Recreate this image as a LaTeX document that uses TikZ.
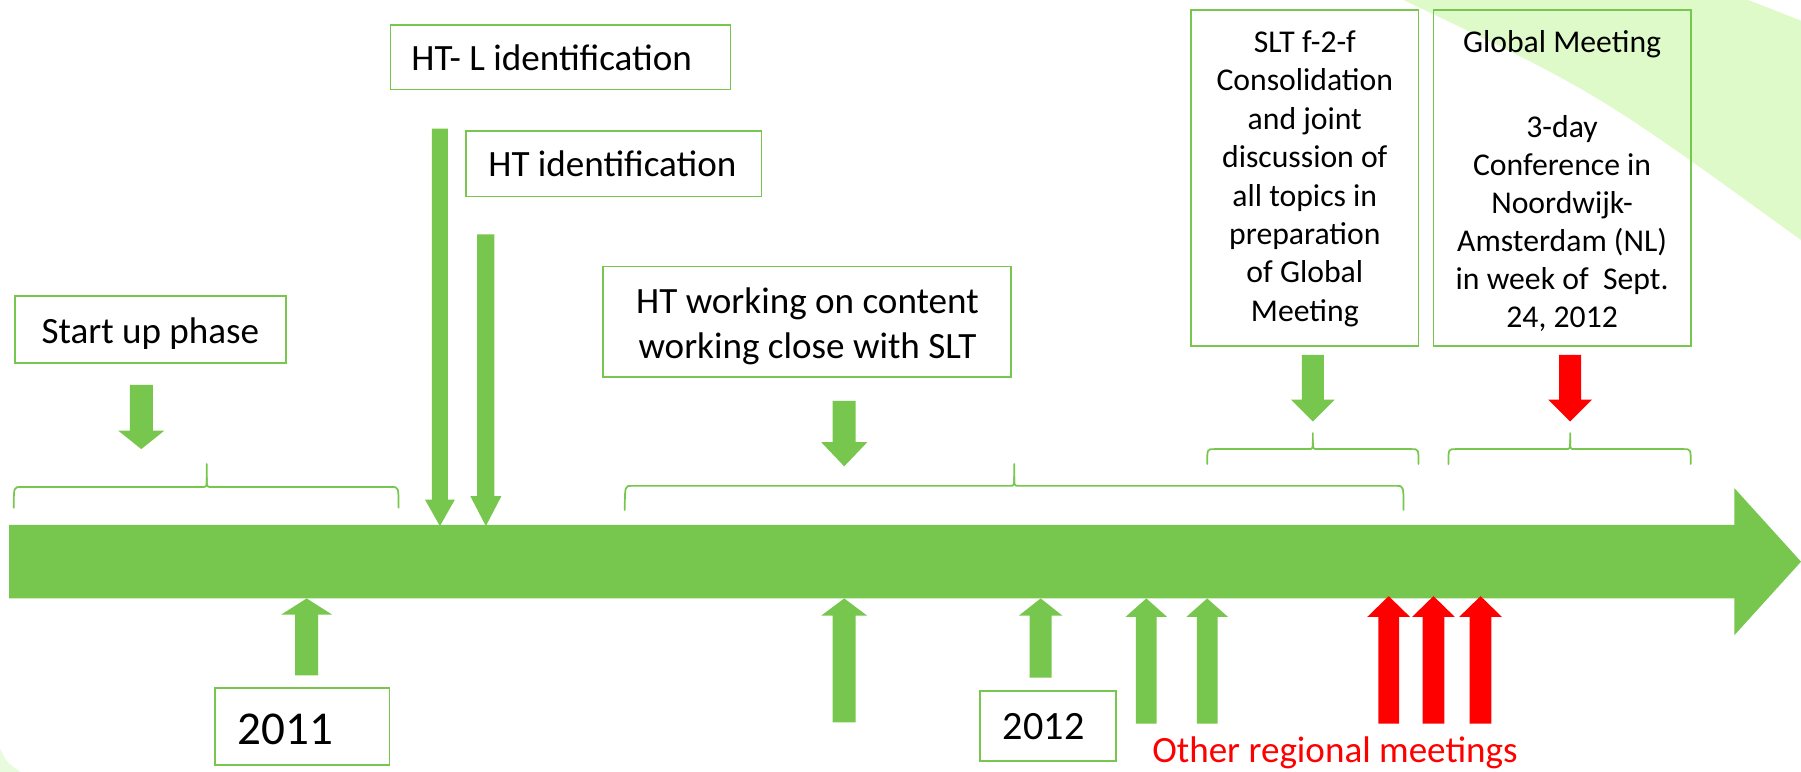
\documentclass[tikz,border=0pt]{standalone}
\usepackage{fontspec}
\setmainfont{Carlito}
\definecolor{tlgreen}{RGB}{119,199,78}
\definecolor{tlred}{RGB}{255,0,0}
\definecolor{bandgreen}{RGB}{222,250,200}
\definecolor{fadegreen}{RGB}{232,251,220}
\newcommand\blkarrow[7]{% color, x, y tail, y head base, y tip, shaft half width, head half width
  \fill[#1] (#2-#6,#3) -- (#2+#6,#3) -- (#2+#6,#4) -- (#2+#7,#4) -- (#2,#5) -- (#2-#7,#4) -- (#2-#6,#4) -- cycle;}
\newcommand\brc[6]{% x1, xm, x2, y tip, y horizontal, y ends
  \draw[bracestyle] (#1,#6) .. controls (#1,#5) .. (#1+6,#5) -- (#2-4,#5) .. controls (#2,#5) .. (#2,#5-8) -- (#2,#4);
  \draw[bracestyle] (#2,#5-8) .. controls (#2,#5) .. (#2+4,#5) -- (#3-6,#5) .. controls (#3,#5) .. (#3,#6);}
\begin{document}
\begin{tikzpicture}[x=1pt,y=-1pt,
  box/.style={draw=tlgreen, line width=1.5pt, inner sep=0pt},
  bigtxt/.style={inner sep=0pt, font=\fontsize{32.3}{38.8}\selectfont},
  smalltxt/.style={inner sep=0pt, align=center, font=\fontsize{27.6}{33}\selectfont},
  bracestyle/.style={draw=tlgreen, line width=1.5pt, line cap=round}]
\useasboundingbox (0,0) rectangle (1568,672);
\fill[white] (0,0) rectangle (1568,672);
% background band
\fill[bandgreen] (1222,0) .. controls (1390,80) .. (1568,209) -- (1568,18) -- (1522,0) -- cycle;
\fill[fadegreen] (0,652) .. controls (6,664) .. (18,672) -- (0,672) -- cycle;

% braces
\brc{12}{180}{347}{404}{424}{442}
\brc{544}{883}{1222}{404}{423}{444}
\brc{1051}{1143}{1235}{377}{391}{404}
\brc{1261}{1367}{1472}{377}{391}{404}

% boxes
\node[box, minimum width=236pt, minimum height=58pt] (startbox) at (131,287) {};
\node[bigtxt, anchor=base] (starttxt) at (131,299) {Start up phase};

\node[box, minimum width=296pt, minimum height=56pt] (htlbox) at (488,50) {};
\node[bigtxt, anchor=base west] (htltxt) at (358,61.5) {HT- L identification};

\node[box, minimum width=257pt, minimum height=57pt] (htbox) at (534.5,142.5) {};
\node[bigtxt, anchor=base west] (httxt) at (425,154) {HT identification};

\node[box, minimum width=355pt, minimum height=96pt] (workbox) at (702.5,280) {};
\node[bigtxt, anchor=base] (worktxt1) at (703,273) {HT working on content};
\node[bigtxt, anchor=base] (worktxt2) at (703,312) {working close with SLT};

\node[box, minimum width=198pt, minimum height=292pt] (sltbox) at (1136,155) {};
\node[smalltxt, anchor=north] (slttxt) at (1136,22.5) {\strut SLT f-2-f\\[0.4pt]Consolidation\\[0.4pt]and joint\\[0.4pt]discussion of\\[0.4pt]all topics in\\[0.4pt]preparation\\[0.4pt]of Global\\[0.4pt]Meeting};

\node[box, minimum width=224pt, minimum height=292pt] (globbox) at (1360,155) {};
\node[smalltxt, anchor=north] (globtxt) at (1360,22.5) {\strut Global Meeting\\[41pt]3-day\\Conference in\\Noordwijk-\\Amsterdam (NL)\\in week of~ Sept.\\24, 2012};

\node[box, minimum width=152pt, minimum height=67pt] (box2011) at (263,632.5) {};
\node[inner sep=0pt, anchor=base west, font=\fontsize{41}{49}\selectfont] (txt2011) at (207,648) {2011};

\node[box, minimum width=118pt, minimum height=61pt] (box2012) at (912.5,632) {};
\node[inner sep=0pt, anchor=base west, font=\fontsize{35}{42}\selectfont] (txt2012) at (873,644) {2012};

\node[bigtxt, anchor=base west, text=tlred] (othertxt) at (1003,664) {Other regional meetings};

% main timeline arrow
\fill[tlgreen] (8,457) -- (1510,457) -- (1510,425) -- (1568,489) -- (1510,553) -- (1510,521) -- (8,521) -- cycle;

% down arrows
\blkarrow{tlgreen}{123}{335}{375}{391}{10}{20}
\blkarrow{tlgreen}{383}{112}{435}{458}{7}{13}
\blkarrow{tlgreen}{423}{204}{432}{458}{7.5}{13.5}
\blkarrow{tlgreen}{735}{349}{385}{406}{10}{20}
\blkarrow{tlgreen}{1143}{309}{348}{367}{9.5}{19}
\blkarrow{tlred}{1367}{309}{348}{367}{9.5}{19}

% up arrows
\blkarrow{tlgreen}{267}{588}{535}{521}{10}{22}
\blkarrow{tlgreen}{735}{629}{536}{521}{10}{20}
\blkarrow{tlgreen}{906}{590}{536}{521}{9.5}{19}
\blkarrow{tlgreen}{998}{630}{537}{521}{9}{18}
\blkarrow{tlgreen}{1051}{630}{537}{521}{9}{18}
\blkarrow{tlred}{1209}{630}{537}{519}{9}{18.5}
\blkarrow{tlred}{1248}{630}{537}{519}{9.5}{18.5}
\blkarrow{tlred}{1289}{630}{537}{519}{9.5}{18.5}
\end{tikzpicture}
\end{document}
